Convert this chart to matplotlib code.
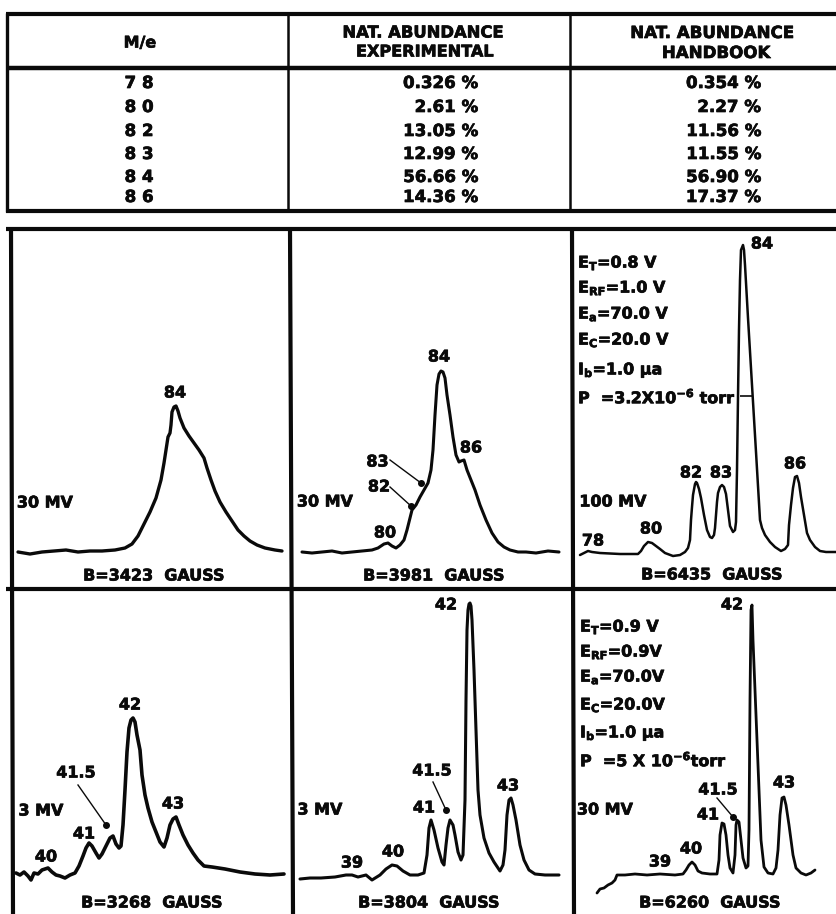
import matplotlib
matplotlib.use("Agg")
import matplotlib.pyplot as plt
import matplotlib.patheffects as pe

plt.rcParams['font.family'] = ['DejaVu Sans']
plt.rcParams['font.weight'] = 'bold'
plt.rcParams['mathtext.default'] = 'regular'

# ---- table ----
mass = ['7 8', '8 0', '8 2', '8 3', '8 4', '8 6']
exp_abund = ['0.326 %', '2.61 %', '13.05 %', '12.99 %', '56.66 %', '14.36 %']
hb_abund = ['0.354 %', '2.27 %', '11.56 %', '11.55 %', '56.90 %', '17.37 %']
row_y = [83, 107, 131, 154, 177, 197]

# ---- traces (position along the sweep, height downward) ----
p1 = [(18,552),(30,554),(42,552),(54,551),(66,550),(78,552),(90,551),(102,551),(115,550),(125,548),(132,544),
      (138,536),(143,526),(150,512),(156,498),(161,480),(164,463),(166,450),(168,437),(170,433),(171,425),(172,412),
      (174,407),(176,406),(178,411),(180,418),(184,428),(189,436),(194,443),(199,450),(204,458),(207,468),(211,480),
      (215,491),(220,502),(226,512),(232,521),(238,530),(244,536),(250,541),(257,545),(265,548),(275,550),(282,551)]
p2 = [(302,552),(312,553),(322,552),(332,551),(342,553),(352,552),(362,551),(372,550),(378,548),(384,544),(388,543),
      (392,546),(396,548),(400,545),(404,540),(407,530),(410,518),(412,510),(416,505),(420,497),(424,490),(428,483),
      (431,470),(433,450),(435,415),(437,385),(439,374),(441,371),(443,372),(445,378),(447,395),(450,415),(453,437),
      (456,455),(459,462),(461,461),(464,460),(467,470),(471,480),(475,490),(480,505),(486,520),(492,533),(498,542),
      (504,547),(510,550),(518,552),(526,552),(536,553),(548,551),(559,552)]
p3 = [(580,555),(584,553),(588,551),(592,552),(600,553),(620,554),(638,554),(641,551),(644,546),(648,542),(652,543),
      (656,546),(660,549),(665,553),(673,556),(680,555),(685,552),(688,548),(690,540),(691,520),(692,507),(693,495),
      (695,484),(696,482),(697,483),(699,489),(701,498),(704,515),(707,530),(710,537),(712,538),(714,535),(715,528),
      (716,515),(717,502),(718,493),(720,487),(722,485),(724,487),(726,494),(728,510),(730,526),(733,532),(735,530),
      (736,522),(737,470),(738,397),(739,330),(740,280),(741,250),(743,245),(744,250),(745,265),(748,318),(752,385),
      (756,452),(760,520),(762,528),(765,535),(770,542),(775,547),(781,551),(785,549),(788,545),(789,525),(791,505),
      (793,488),(795,477),(797,476),(799,483),(801,497),(804,515),(807,533),(810,540),(815,547),(820,551),(826,552),(837,552)]
p4 = [(16,873),(20,875),(24,872),(28,876),(31,880),(34,873),(38,874),(42,870),(48,868),(52,872),(56,875),(60,876),
      (65,878),(70,875),(75,873),(79,866),(83,856),(86,848),(89,843),(92,846),(96,853),(99,858),(102,854),(106,846),
      (110,838),(113,836),(116,844),(119,848),(121,846),(123,825),(125,790),(127,752),(129,728),(131,720),(133,718),
      (135,722),(137,735),(140,750),(142,775),(145,795),(148,808),(152,822),(156,832),(160,842),(164,847),(167,838),
      (170,825),(173,819),(176,817),(179,825),(183,835),(188,845),(193,853),(198,860),(204,866),(212,867),(225,869),
      (240,872),(255,874),(270,875),(284,874)]
p5 = [(300,879),(310,878),(321,878),(335,877),(346,875),(352,875),(358,877),(366,875),(372,880),(380,875),(386,869),
      (392,865),(397,866),(403,871),(410,875),(418,875),(424,873),(427,855),(429,828),(431,820),(434,830),(438,848),
      (442,862),(444,865),(446,845),(448,828),(450,820),(453,825),(455,835),(458,852),(461,860),(463,855),(465,800),
      (466,700),(467,630),(468,610),(469,604),(470,603),(471,606),(472,620),(474,670),(476,730),(478,790),(480,815),
      (484,838),(489,853),(494,862),(500,871),(503,865),(505,850),(507,815),(509,800),(511,798),(513,805),(516,820),
      (520,845),(524,860),(529,870),(535,874),(545,875),(559,875)]
p6 = [(597,893),(600,889),(604,888),(608,885),(612,883),(615,880),(617,875),(625,875),(635,874),(647,875),(660,874),
      (675,875),(683,874),(686,870),(689,865),(692,862),(695,865),(698,871),(702,873),(710,874),(717,874),(719,860),
      (720,835),(722,823),(724,824),(726,835),(728,855),(730,868),(733,873),(735,855),(736,825),(737,820),(739,822),
      (741,840),(743,858),(746,868),(748,866),(749,830),(750,700),(751,610),(752,605),(753,640),(757,740),(761,840),
      (764,867),(768,873),(773,874),(776,868),(778,850),(780,815),(782,798),(784,797),(786,805),(789,825),(793,855),
      (796,868),(801,873),(806,875),(811,873),(815,870)]

# (label, x, y)
labels = [
    ('84',175,393),('30 MV',45,503),('B=3423  GAUSS',154,576),
    ('84',439,357),('86',471,448),('83',377.5,462),('82',379,487),('80',385,533),
    ('30 MV',325,502),('B=3981  GAUSS',434,576),
    ('84',762,244),('100 MV',613,502),('78',593,541),('80',651,529),('82',691,473),
    ('83',721,473),('86',795,464),('B=6435  GAUSS',712,575),
    ('42',130,705),('41.5',76,773),('3 MV',41,811),('43',173,804),('41',84,834),
    ('40',46,857),('B=3268  GAUSS',152,903),
    ('42',446,605),('41.5',432,771),('3 MV',320,810),('43',508,786),('41',424,808),
    ('39',352,863),('40',393,852),('B=3804  GAUSS',429,903),
    ('42',732,605),('30 MV',605,810),('41.5',718,790),('43',784,783),('41',708,815),
    ('40',691,849),('39',660,862),('B=6260  GAUSS',710,903),
]
cond_a = [(r'E$_T$=0.8 V',263),(r'E$_{RF}$=1.0 V',288),(r'E$_a$=70.0 V',314),
          (r'E$_C$=20.0 V',340),(r'I$_b$=1.0 $\mu$a',370),(r'P  =3.2X10$^{-6}$ torr',397)]
cond_b = [(r'E$_T$=0.9 V',627),(r'E$_{RF}$=0.9V',652),(r'E$_a$=70.0V',677),
          (r'E$_C$=20.0V',705),(r'I$_b$=1.0 $\mu$a',733),(r'P  =5 X 10$^{-6}$torr',760)]
leaders = [(390,460,421,483),(390,487,411,506),(78,785,106,825),(433,782,446,810),(717,798,733,817)]

fig = plt.figure(figsize=(8.37, 9.14), dpi=100)
ax = fig.add_axes([0, 0, 1, 1])
ax.set_xlim(0, 837)
ax.set_ylim(914, 0)
ax.axis('off')

INK = '#0a0a0a'
def rule(x0, y0, x1, y1, w=2.6):
    ax.plot([x0, x1], [y0, y1], color=INK, lw=w, solid_capstyle='butt', zorder=3)

# table frame
rule(6, 14, 837, 14, 3.0); rule(6, 68, 837, 68, 3.2); rule(6, 211, 837, 211, 3.0)
rule(7, 13, 7, 212, 2.4); rule(288, 14, 288, 211, 1.8); rule(570, 14, 570, 211, 1.8)
# panel frame
rule(6, 229, 837, 229, 3.0); rule(6, 589, 837, 589, 3.0)
rule(11, 228, 13, 914, 3.0); rule(290, 228, 293, 914, 3.0); rule(572, 228, 574, 914, 3.0)

FS = 11.5
stroke = [pe.withStroke(linewidth=0.5, foreground=INK)]
def T(x, y, s, ha='center', fs=FS):
    ax.text(x, y, s, ha=ha, va='center', fontsize=fs, color=INK, fontweight='bold',
            zorder=4, path_effects=stroke)

T(140, 43, 'M/e')
T(423, 33, 'NAT. ABUNDANCE', fs=11.8); T(425, 52, 'EXPERIMENTAL', fs=11.6)
T(712, 33, 'NAT. ABUNDANCE', fs=12); T(716, 53, 'HANDBOOK', fs=12)
for m, e, h, y in zip(mass, exp_abund, hb_abund, row_y):
    T(139, y, m, fs=12)
    T(478, y, e, ha='right', fs=12)
    T(761, y, h, ha='right', fs=12)

for pts, w in [(p1, 2.4), (p2, 2.2), (p3, 1.8), (p4, 2.6), (p5, 2.2), (p6, 2.0)]:
    xs, ys = zip(*pts)
    ax.plot(xs, ys, color=INK, lw=w, solid_joinstyle='round', solid_capstyle='round', zorder=2)

rule(740, 396, 753, 396, 1.2)
for x0, y0, x1, y1 in leaders:
    ax.plot([x0, x1], [y0, y1], color=INK, lw=1.0, zorder=2)
    ax.plot([x1], [y1], 'o', color=INK, ms=4, zorder=2)

for s, x, y in labels:
    T(x, y, s)
for s, y in cond_a:
    T(578, y, s, ha='left')
for s, y in cond_b:
    T(580, y, s, ha='left')

fig.savefig('out.png', dpi=100)
